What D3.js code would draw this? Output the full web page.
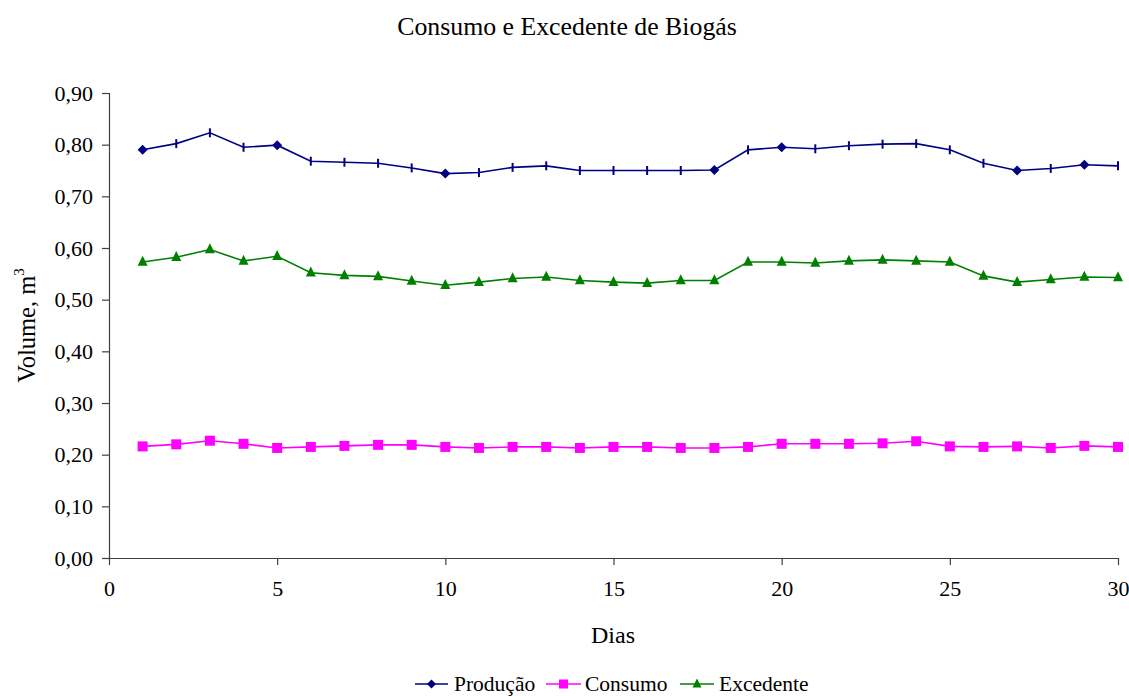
<!DOCTYPE html>
<html>
<head>
<meta charset="utf-8">
<script src="https://cdn.jsdelivr.net/npm/d3@7/dist/d3.min.js"></script>
<style>
  html, body { margin: 0; padding: 0; background: #fff; }
  svg { display: block; font-family: "Liberation Serif", "Times New Roman", serif; }
  svg text { font-family: "Liberation Serif", "Times New Roman", serif; }
</style>
</head>
<body>
<svg id="chart" width="1129" height="696"></svg>
<script>
// ---- data ----
const days = d3.range(1, 31);
const producao = [0.790, 0.802, 0.823, 0.795, 0.799, 0.768, 0.766, 0.764, 0.755, 0.744,
                  0.746, 0.756, 0.759, 0.750, 0.750, 0.750, 0.750, 0.751, 0.790, 0.795,
                  0.792, 0.798, 0.801, 0.802, 0.790, 0.764, 0.750, 0.754, 0.761, 0.759];
const consumo = [0.216, 0.220, 0.227, 0.221, 0.213, 0.215, 0.217, 0.219, 0.219, 0.215,
                 0.213, 0.215, 0.215, 0.213, 0.215, 0.215, 0.213, 0.213, 0.215, 0.221,
                 0.221, 0.221, 0.222, 0.226, 0.216, 0.215, 0.216, 0.213, 0.217, 0.215];
const excedente = [0.573, 0.582, 0.597, 0.575, 0.584, 0.552, 0.547, 0.545, 0.536, 0.528,
                   0.534, 0.541, 0.544, 0.537, 0.534, 0.532, 0.537, 0.537, 0.573, 0.573,
                   0.571, 0.575, 0.577, 0.575, 0.573, 0.546, 0.534, 0.539, 0.544, 0.543];
const producaoDiamondDays = [1, 5, 10, 18, 20, 27, 29];
const xTicks = [0, 5, 10, 15, 20, 25, 30];
const yTicks = [0, 0.1, 0.2, 0.3, 0.4, 0.5, 0.6, 0.7, 0.8, 0.9];
const seriesNames = ["Produção", "Consumo", "Excedente"];
const titleText = "Consumo e Excedente de Biogás";
const xTitle = "Dias";
const yTitle = "Volume, m";

// ---- layout ----
const svg = d3.select("#chart");
const mLeft = 109, mRight = 1118, mTop = 93, mBottom = 558;
const x = d3.scaleLinear().domain([0, 30]).range([mLeft, mRight]);
const y = d3.scaleLinear().domain([0, 0.9]).range([mBottom, mTop]);
const fmt = v => d3.format(".2f")(v).replace(".", ",");
const serif = "'Liberation Serif', 'Times New Roman', serif";

const colors = { "Produção": "#000080", "Consumo": "#FF00FF", "Excedente": "#008000" };

// title
svg.append("text").attr("x", 567).attr("y", 35).attr("text-anchor", "middle")
  .attr("font-size", 25.8).attr("fill", "#000").text(titleText);

// axes
const yAxis = svg.append("g").attr("transform", `translate(${mLeft},0)`)
  .call(d3.axisLeft(y).tickValues(yTicks).tickFormat(fmt).tickSize(7).tickPadding(9));
const xAxis = svg.append("g").attr("transform", `translate(0,${mBottom})`)
  .call(d3.axisBottom(x).tickValues(xTicks).tickFormat(d3.format("d")).tickSize(7).tickPadding(15));
[yAxis, xAxis].forEach(g => {
  g.attr("font-family", serif).attr("font-size", 22);
  g.select(".domain").attr("stroke", "#404040").attr("stroke-width", 1.2);
  g.selectAll(".tick line").attr("stroke", "#404040").attr("stroke-width", 1.2);
  g.selectAll(".tick text").attr("font-size", 22).attr("fill", "#000").attr("font-family", serif);
});
yAxis.select(".domain").attr("d", `M0.5,${mTop}V${mBottom}`);
xAxis.select(".domain").attr("d", `M${mLeft},0.5H${mRight}`);

// axis titles
svg.append("text").attr("x", 613).attr("y", 643).attr("text-anchor", "middle")
  .attr("font-size", 24).attr("fill", "#000").text(xTitle);
const yt = svg.append("text").attr("transform", `translate(35,${(mTop + mBottom) / 2}) rotate(-90)`)
  .attr("text-anchor", "middle").attr("font-size", 24.5).attr("fill", "#000");
yt.append("tspan").text(yTitle);
yt.append("tspan").attr("font-size", 15).attr("dy", -11).text("3");

// lines
const line = d3.line().x((d, i) => x(days[i])).y(d => y(d));
const data = { "Produção": producao, "Consumo": consumo, "Excedente": excedente };
seriesNames.forEach(name => {
  svg.append("path").datum(data[name]).attr("d", line).attr("fill", "none")
    .attr("stroke", colors[name]).attr("stroke-width", 1.6);
});

// markers
function diamond(g, cx, cy, color, r) {
  g.append("path").attr("d", `M${cx},${cy - r}L${cx + r},${cy}L${cx},${cy + r}L${cx - r},${cy}Z`).attr("fill", color);
}
function square(g, cx, cy, color, s) {
  g.append("rect").attr("x", cx - s / 2).attr("y", cy - s / 2).attr("width", s).attr("height", s).attr("fill", color);
}
function triangle(g, cx, cy, color, s) {
  g.append("path").attr("d", `M${cx},${cy - s * 0.62}L${cx + s / 2},${cy + s * 0.38}L${cx - s / 2},${cy + s * 0.38}Z`).attr("fill", color);
}
function vtick(g, cx, cy, color) {
  g.append("line").attr("x1", cx).attr("x2", cx).attr("y1", cy - 4.5).attr("y2", cy + 4.5)
    .attr("stroke", color).attr("stroke-width", 2);
}
const mk = svg.append("g");
producao.forEach((v, i) => {
  if (producaoDiamondDays.includes(days[i])) diamond(mk, x(days[i]), y(v), colors["Produção"], 5);
  else vtick(mk, x(days[i]), y(v), colors["Produção"]);
});
consumo.forEach((v, i) => square(mk, x(days[i]), y(v), colors["Consumo"], 10));
excedente.forEach((v, i) => triangle(mk, x(days[i]), y(v), colors["Excedente"], 10));

// legend
const legY = 684;
const leg = [
  { name: "Produção", x0: 415, x1: 448, tx: 454 },
  { name: "Consumo", x0: 546, x1: 581, tx: 585 },
  { name: "Excedente", x0: 680, x1: 714, tx: 719 }
];
leg.forEach(l => {
  svg.append("line").attr("x1", l.x0).attr("x2", l.x1).attr("y1", legY).attr("y2", legY)
    .attr("stroke", colors[l.name]).attr("stroke-width", 1.6);
  const cx = (l.x0 + l.x1) / 2;
  if (l.name === "Produção") diamond(svg, cx, legY, colors[l.name], 4.5);
  else if (l.name === "Consumo") square(svg, cx, legY, colors[l.name], 9);
  else triangle(svg, cx, legY, colors[l.name], 9);
  svg.append("text").attr("x", l.tx).attr("y", legY + 6.5).attr("font-size", 21.5)
    .attr("fill", "#000").text(l.name);
});
</script>
</body>
</html>
